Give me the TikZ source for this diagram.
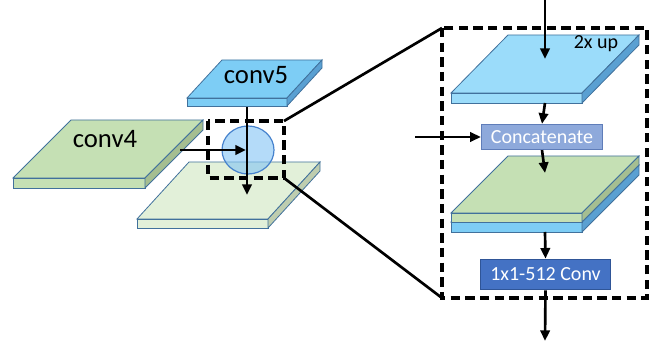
\documentclass[tikz,border=0pt]{standalone}
\usepackage{fontspec}
\setmainfont{Carlito}
\usetikzlibrary{arrows.meta}
\definecolor{slabedge}{RGB}{65,113,156}
\definecolor{bluetop}{RGB}{125,205,245}
\definecolor{blueup}{RGB}{155,220,250}
\definecolor{blueside}{RGB}{90,160,210}
\definecolor{greentop}{RGB}{197,224,180}
\definecolor{greenside}{RGB}{165,190,145}
\definecolor{palegreen}{RGB}{226,240,217}
\definecolor{paleside}{RGB}{190,205,175}
\definecolor{catfill}{RGB}{142,169,219}
\definecolor{catedge}{RGB}{95,125,185}
\definecolor{convfill}{RGB}{68,114,196}
\definecolor{convedge}{RGB}{47,85,151}
\tikzset{
  slabline/.style={draw=slabedge,line width=0.6pt},
  arr/.style={line width=2pt,-{Triangle[length=8pt,width=7pt]}},
  dashbox/.style={line width=2.4pt,dash pattern=on 7pt off 4pt},
  opbox/.style={draw,line width=0.7pt,text=white,font=\fontsize{15}{18}\selectfont}
}
% slab: x, y (front left corner of top face), width, shift x, shift y, thickness, top colour, side colour
\newcommand{\slab}[8]{%
  \filldraw[slabline,fill=#7] (#1,#2) -- ++(#3,0) -- ++(#4,-#5) -- ++(-#3,0) -- cycle;
  \filldraw[slabline,fill=#7] (#1,#2) rectangle ++(#3,#6);
  \filldraw[slabline,fill=#8] (#1+#3,#2) -- ++(#4,-#5) -- ++(0,#6) -- ++(-#4,#5) -- cycle;}
\begin{document}
\begin{tikzpicture}[x=0.75pt,y=-0.75pt]
  \useasboundingbox (0,0) rectangle (660,345);
  % left part
  \slab{137}{219}{131}{52}{57}{9}{palegreen}{paleside} %merged map
  \slab{13}{178}{132}{58}{58}{10}{greentop}{greenside} %conv4
  \slab{187}{98}{100}{35}{38}{8}{bluetop}{blueside} %conv5
  \node[font=\fontsize{20}{24}\selectfont] (c5) at (256,75) {conv5};
  \node[font=\fontsize{20}{24}\selectfont] (c4) at (105,139) {conv4};
  \filldraw[draw={rgb,255:red,70;green,130;blue,205},line width=0.9pt,
    fill={rgb,255:red,130;green,195;blue,245},fill opacity=0.6] (248,150) ellipse (26 and 24); %fusion
  \coordinate (c5out) at (247,107);
  \coordinate (mapin) at (247,195);
  \coordinate (c4out) at (180,150);
  \coordinate (fuse) at (246,150);
  \draw[arr] (c5out) -- (mapin);
  \draw[arr] (c4out) -- (fuse);
  \coordinate (sA) at (208,121);
  \coordinate (sB) at (284,178);
  \draw[dashbox] (sA) rectangle (sB); %small box
  % right part
  \coordinate (bA) at (442,28);
  \coordinate (bB) at (647,298);
  \draw[dashbox] (bA) rectangle (bB); %big box
  \draw[line width=2pt] (sB |- sA) -- (bA);
  \draw[line width=2pt] (sB) -- (bA |- bB);
  \slab{451}{93}{131}{57}{58}{10}{blueup}{blueside} %upsampled
  \node[font=\fontsize{15}{18}\selectfont] (up) at (596,44) {2x up};
  \slab{451}{222}{131}{57}{57}{10}{bluetop}{blueside} %concat, blue half
  \slab{451}{213}{131}{57}{57}{9}{greentop}{greenside} %concat, green half
  \node[opbox,draw=catedge,fill=catfill,minimum width=91pt,minimum height=19pt] (cat) at (542,137) {Concatenate};
  \node[opbox,draw=convedge,fill=convfill,minimum width=98pt,minimum height=23pt] (conv) at (545.5,274.5) {1x1-512 Conv};
  \coordinate (in) at (545,0);
  \coordinate (upin) at (545,59);
  \coordinate (upout) at (545,103);
  \coordinate (side) at (415,137);
  \coordinate (stackin) at (545,173);
  \coordinate (stackout) at (545,232);
  \coordinate (out) at (545,341);
  \draw[arr] (in) -- (upin);
  \draw[arr] (upout) -- (cat.north);
  \draw[arr] (side) -- (cat.west);
  \draw[arr] (cat.south) -- (stackin);
  \draw[arr] (stackout) -- (conv.north);
  \draw[arr] (conv.south) -- (out);
\end{tikzpicture}
\end{document}
